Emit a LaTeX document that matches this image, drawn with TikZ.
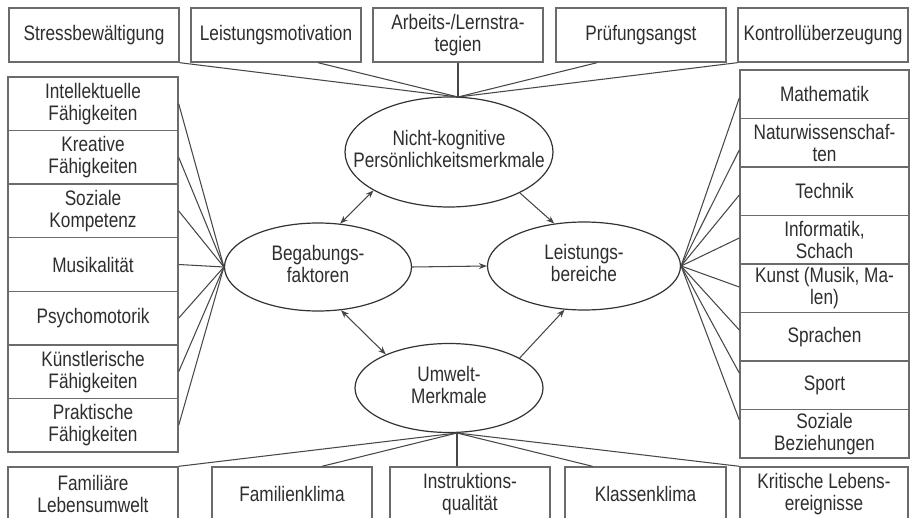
\documentclass[tikz,border=0pt]{standalone}
\usepackage{fontspec}
\setmainfont{Liberation Sans}[FakeStretch=0.82]
\usetikzlibrary{shapes.geometric,arrows.meta}

% two-line label of zero width, so the ellipse keeps its given size
\newcommand\ovaltext[1]{\makebox[0pt]{\begin{tabular}{@{}c@{}}#1\end{tabular}}}

\begin{document}
\begin{tikzpicture}[x=1pt,y=-1pt,
  every node/.style={font=\fontsize{21}{22}\selectfont, text=black!82, align=center},
  box/.style={draw=black!58, line width=1.4pt, inner sep=0pt,
              minimum width=170pt, minimum height=54pt},
  lbox/.style={box, minimum height=53.57pt},
  rbox/.style={box, minimum width=169pt, minimum height=48.5pt},
  oval/.style={draw=black!80, line width=1.2pt, ellipse, inner sep=0pt},
  link/.style={draw=black!72, line width=1.05pt},
  tip/.tip={Stealth[length=8pt,width=6pt]},
  arr/.style={link, -tip},
  darr/.style={link, tip-tip}
]
\fill[white] (0,0) rectangle (912,518);
\clip (0,0) rectangle (912,518);

% central constructs
\node[oval, minimum width=208pt, minimum height=110pt] (nk) at (449,152)
  {\ovaltext{Nicht-kognitive\\Persönlichkeitsmerkmale}};
\node[oval, minimum width=187pt, minimum height=88pt] (bg) at (318,267)
  {\ovaltext{Begabungs-\\faktoren}};
\node[oval, minimum width=193pt, minimum height=88pt] (lb) at (584,266)
  {\ovaltext{Leistungs-\\bereiche}};
\node[oval, minimum width=188pt, minimum height=89pt] (uw) at (449,388)
  {\ovaltext{Umwelt-\\Merkmale}};

\coordinate (tj) at (458,97);
\coordinate (bj) at (457,433);

% top row: non-cognitive traits
\node[box] (t1) at (94,35)  {Stressbewältigung};
\node[box] (t2) at (276,35) {Leistungsmotivation};
\node[box] (t3) at (458,35) {Arbeits-/Lernstra-\\tegien};
\node[box] (t4) at (641,35) {Prüfungsangst};
\node[box] (t5) at (823,35) {Kontrollüberzeugung};

% left column: talent factors
\node[lbox] (l1) at (93,103.8) {Intellektuelle\\Fähigkeiten};
\node[lbox] (l2) at (93,157.4) {Kreative\\Fähigkeiten};
\node[lbox] (l3) at (93,210.9) {Soziale\\Kompetenz};
\node[lbox] (l4) at (93,264.5) {Musikalität};
\node[lbox] (l5) at (93,318.1) {Psychomotorik};
\node[lbox] (l6) at (93,371.6) {Künstlerische\\Fähigkeiten};
\node[lbox] (l7) at (93,425.2) {Praktische\\Fähigkeiten};

% right column: performance domains
\node[rbox] (r1) at (824.5,94.25)  {Mathematik};
\node[rbox] (r2) at (824.5,142.75) {Naturwissenschaf-\\ten};
\node[rbox] (r3) at (824.5,191.25) {Technik};
\node[rbox] (r4) at (824.5,239.75) {Informatik,\\Schach};
\node[rbox] (r5) at (824.5,288.25) {Kunst (Musik, Ma-\\len)};
\node[rbox] (r6) at (824.5,336.75) {Sprachen};
\node[rbox] (r7) at (824.5,385.25) {Sport};
\node[rbox] (r8) at (824.5,433.75) {Soziale\\Beziehungen};

% bottom row: environment
\node[box] (b1) at (93,494) {Familiäre\\Lebensumwelt};
\node[box, minimum width=160pt] (b2) at (292,494) {Familienklima};
\node[box, minimum width=160pt] (b3) at (470,494) {Instruktions-\\qualität};
\node[box, minimum width=161pt] (b4) at (645.5,494) {Klassenklima};
\node[box, minimum width=168pt] (b5) at (824,494) {Kritische Lebens-\\ereignisse};

% fan-in lines
\draw[link] (t1.south east) -- (tj);
\draw[link] ([xshift=42pt]t2.south) -- (tj);
\draw[link] (t3.south) -- (tj);
\draw[link] ([xshift=-44pt]t4.south) -- (tj);
\draw[link] (t5.south west) -- (tj);

\foreach \i in {1,...,7} \draw[link] (l\i.east) -- (bg.west);

\draw[link] ([yshift=-3.75pt]r1.west) -- (lb.east);
\draw[link] ([yshift=-7.25pt]r2.west) -- (lb.east);
\draw[link] ([yshift=-3.75pt]r3.west) -- (lb.east);
\draw[link] ([yshift=1.75pt]r4.west) -- (lb.east);
\draw[link] ([yshift=1.25pt]r5.west) -- (lb.east);
\draw[link] ([yshift=6.75pt]r6.west) -- (lb.east);
\draw[link] ([yshift=12.25pt]r7.west) -- (lb.east);
\draw[link] ([yshift=13.75pt]r8.west) -- (lb.east);

\draw[link] (b1.north east) -- (bj);
\draw[link] ([xshift=30pt]b2.north) -- (bj);
\draw[link] (bj |- b3.north) -- (bj);
\draw[link] ([xshift=-53pt]b4.north) -- (bj);
\draw[link] (b5.north west) -- (bj);

% relations between the constructs
\draw[darr] (bg.63) -- (nk.207);
\draw[arr] (nk.330) -- (lb.125);
\draw[arr] (bg.east) -- (lb.west);
\draw[darr] (bg.298) -- (uw.152);
\draw[arr] (uw.23) -- (lb.246);
\end{tikzpicture}
\end{document}
